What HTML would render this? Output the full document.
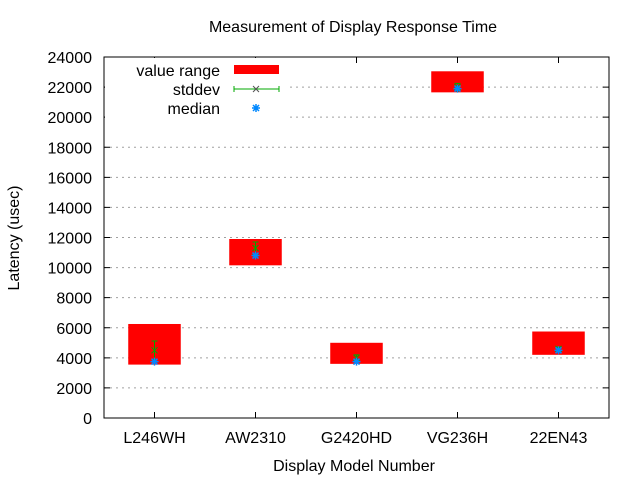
<!DOCTYPE html>
<html><head><meta charset="utf-8"><style>
body{margin:0;background:#fff}
svg text{font-family:"Liberation Sans",sans-serif;font-size:16px;fill:#000}
</style></head><body>
<svg id="c" width="640" height="480">
<text x="353" y="32" text-anchor="middle">Measurement of Display Response Time</text>
<text x="354" y="471" text-anchor="middle">Display Model Number</text>
<text transform="translate(19,238) rotate(-90)" text-anchor="middle">Latency (usec)</text>
<g id="grid"></g><g id="marks"></g>
<rect x="104" y="57" width="505" height="361" fill="none" stroke="#000" stroke-width="1"/>
<g id="ticks"></g>
<g id="legend">
<rect x="105" y="58" width="183" height="60" fill="#fff"/>
<text x="220" y="76" text-anchor="end">value range</text>
<rect x="234" y="65" width="45" height="9" fill="#f00"/>
<text x="220" y="95" text-anchor="end">stddev</text>
<g stroke="#0a0" stroke-width="1"><line x1="234" y1="89" x2="279" y2="89"/><line x1="234" y1="86" x2="234" y2="92"/><line x1="279" y1="86" x2="279" y2="92"/><path d="M253,86L259,92M253,92L259,86" stroke="#555"/></g>
<text x="220" y="114" text-anchor="end">median</text>
<path d="M252,108h8M256,104v8M253,105l6,6M253,111l6,-6" stroke="#08f" stroke-width="1.5"/>
</g>
</svg>
<script>
const categories=["L246WH","AW2310","G2420HD","VG236H","22EN43"];
const rangeMin=[3550,10150,3600,21650,4200];
const rangeMax=[6250,11900,5000,23050,5750];
const means=[4500,11300,4000,22000,4600];
const stddevs=[620,400,200,250,120];
const medians=[3750,10800,3750,21900,4500];
const yTicks=[0,2000,4000,6000,8000,10000,12000,14000,16000,18000,20000,22000,24000];
const NS="http://www.w3.org/2000/svg";
const L=104,R=609,T=57,B=418;
function y(v){return B-(v/24000)*(B-T);}
function x(i){return L+(i+0.5)*(R-L)/categories.length;}
function mk(tag,attrs,parent){const e=document.createElementNS(NS,tag);for(const k in attrs)e.setAttribute(k,attrs[k]);parent.appendChild(e);return e;}
const grid=document.getElementById('grid'),ticks=document.getElementById('ticks'),marks=document.getElementById('marks');
yTicks.forEach(v=>{
 if(v>0&&v<24000){const g=mk('line',{x1:L,x2:R,y1:y(v),y2:y(v),stroke:'#a0a0a0','stroke-dasharray':'2,4'},grid);
 
 }
 const t=mk('path',{d:`M${L},${y(v)}h6M${R},${y(v)}h-6`,stroke:'#000'},ticks);
 
 
 const lb=mk('text',{x:92,y:y(v)+6,'text-anchor':'end'},ticks);lb.textContent=v;
 
 
});
const hw=0.26*(R-L)/categories.length;
categories.forEach((c,i)=>{
 const cx=x(i);
 const t=mk('path',{d:`M${cx},${B}v-6M${cx},${T}v6`,stroke:'#000'},ticks);
 
 
 const lb=mk('text',{x:cx,y:443,'text-anchor':'middle'},ticks);lb.textContent=c;
 
 
 const r=mk('rect',{x:cx-hw,y:y(rangeMax[i]),width:2*hw,height:y(rangeMin[i])-y(rangeMax[i]),fill:'#f00'},marks);
 
 
 const y1=y(means[i]+stddevs[i]),y2=y(means[i]-stddevs[i]),ym=y(means[i]);
 const e=mk('path',{d:`M${cx},${y1}V${y2}M${cx-3},${y1}h6M${cx-3},${y2}h6M${cx-3},${ym-3}l6,6M${cx-3},${ym+3}l6,-6`,stroke:'#0a0',fill:'none'},marks);
 
 
 const ymd=y(medians[i]);
 const m=mk('path',{d:`M${cx-4},${ymd}h8M${cx},${ymd-4}v8M${cx-3},${ymd-3}l6,6M${cx-3},${ymd+3}l6,-6`,stroke:'#08f','stroke-width':1.5},marks);
 
 
});
</script>
</body></html>
